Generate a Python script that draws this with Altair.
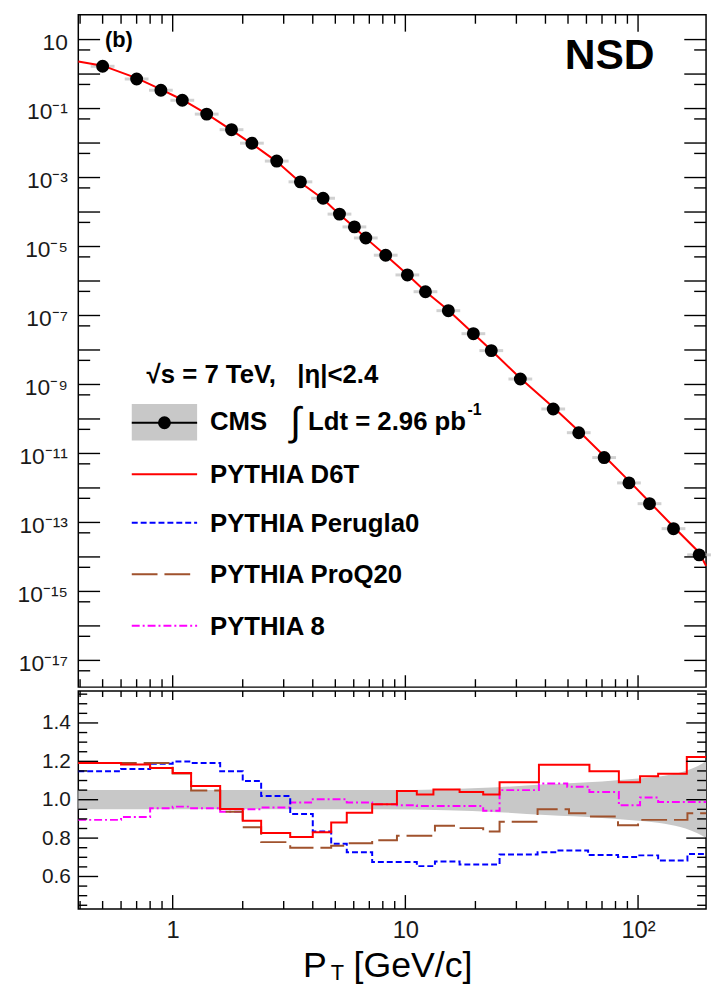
import altair as alt
import pandas as pd

# ---------------- data ----------------
cms_pt = [0.50, 0.70, 0.89, 1.10, 1.40, 1.79, 2.19, 2.80, 3.54, 4.43, 5.21, 6.04, 6.76, 8.23,
          10.2, 12.2, 15.3, 19.6, 23.4, 31.2, 43.2, 55.6, 71.5, 91.4, 112.0, 142.0, 183.0]
cms_yield = [1.68, 0.72, 0.34, 0.174, 0.069, 0.0244, 0.0099, 0.0030, 7.5e-4, 2.5e-4, 8.7e-5,
             3.7e-5, 1.77e-5, 5.6e-6, 1.5e-6, 4.9e-7, 1.38e-7, 2.97e-8, 9.6e-9, 1.44e-9,
             1.95e-10, 4.0e-11, 7.6e-12, 1.4e-12, 3.5e-13, 6.6e-14, 1.15e-14]

d6t_pt = [0.393, 0.50, 0.70, 0.89, 1.10, 1.40, 1.79, 2.19, 2.80, 3.54, 4.43, 5.21, 6.04, 6.76,
          8.23, 10.2, 12.2, 15.3, 19.6, 23.4, 31.2, 43.2, 55.6, 71.5, 91.4, 112.0, 142.0, 183.0, 196.0]
d6t_yield = [2.3, 1.75, 0.76, 0.36, 0.18, 0.070, 0.0238, 0.0095, 0.0029, 7.2e-4, 2.4e-4, 8.5e-5,
             3.6e-5, 1.75e-5, 5.6e-6, 1.55e-6, 5.0e-7, 1.42e-7, 3.0e-8, 9.8e-9, 1.52e-9, 2.2e-10,
             4.5e-11, 8.4e-12, 1.6e-12, 3.9e-13, 7.5e-14, 1.35e-14, 5.5e-15]

# ratio MC / data, step histograms (edges, values)
d6t_edges = [0.393, 0.6, 0.8, 1.0, 1.2, 1.6, 2.0, 2.4, 3.2, 4.0, 4.8, 5.6, 7.2, 9.2, 11.2, 13.2,
             17.1, 21.6, 25.4, 37.5, 61.8, 82.7, 102, 122, 162, 196]
d6t_ratio = [1.191, 1.184, 1.165, 1.139, 1.071, 0.952, 0.890, 0.826, 0.806, 0.830, 0.881, 0.932,
             0.976, 1.045, 1.027, 1.053, 1.040, 1.027, 1.091, 1.182, 1.148, 1.091, 1.122, 1.135, 1.222]

p0_edges = [0.393, 0.6, 0.8, 1.0, 1.2, 1.6, 2.0, 2.4, 3.2, 4.0, 4.8, 5.6, 7.2, 11.2, 13.4, 17.1,
            25.4, 37.0, 45.5, 61.0, 82.0, 100, 122, 163, 196]
p0_ratio = [1.148, 1.160, 1.188, 1.199, 1.191, 1.148, 1.097, 1.019, 0.925, 0.834, 0.770, 0.726,
            0.675, 0.654, 0.678, 0.663, 0.714, 0.726, 0.735, 0.712, 0.701, 0.710, 0.683, 0.717]

pq_edges = [0.393, 1.0, 1.2, 1.6, 2.0, 2.4, 3.2, 4.8, 5.6, 7.2, 9.2, 13.4, 17.1, 21.6, 25.4, 37.0,
            50.5, 61.0, 82.0, 100, 163, 196]
pq_ratio = [1.191, 1.136, 1.048, 0.937, 0.856, 0.779, 0.750, 0.760, 0.773, 0.789, 0.812, 0.864,
            0.852, 0.834, 0.885, 0.950, 0.929, 0.912, 0.867, 0.895, 0.929]

p8_edges = [0.393, 0.6, 0.8, 1.0, 1.2, 1.6, 2.0, 2.4, 3.2, 4.0, 5.6, 7.2, 9.2, 11.2, 21.6, 25.4,
            37.5, 49.6, 61.8, 82.7, 102, 122, 196]
p8_ratio = [0.895, 0.910, 0.956, 0.964, 0.955, 0.937, 0.950, 0.959, 0.985, 1.002, 0.985, 0.976,
            0.971, 0.967, 0.942, 1.050, 1.084, 1.067, 1.040, 0.971, 1.011, 0.988]

band_pt = [0.393, 8, 15, 25, 40, 70, 100, 130, 160, 180, 196]
band_hi = [1.05, 1.05, 1.055, 1.065, 1.08, 1.095, 1.11, 1.125, 1.15, 1.175, 1.20]
band_lo = [0.95, 0.95, 0.945, 0.935, 0.92, 0.905, 0.89, 0.875, 0.85, 0.825, 0.80]

# axis ticks / labels
x_major_ticks = [1, 10, 100]
x_minor_ticks = [0.4, 0.5, 0.6, 0.7, 0.8, 0.9, 2, 3, 4, 5, 6, 7, 8, 9, 20, 30, 40, 50,
                 60, 70, 80, 90]
x_labels = ["1", "10", "10²"]
y_top_major_ticks = [10, 1, 1e-1, 1e-2, 1e-3, 1e-4, 1e-5, 1e-6, 1e-7, 1e-8, 1e-9, 1e-10, 1e-11,
                     1e-12, 1e-13, 1e-14, 1e-15, 1e-16, 1e-17]
y_top_minor_ticks = [5, 0.5, 5e-2, 5e-3, 5e-4, 5e-5, 5e-6, 5e-7, 5e-8, 5e-9, 5e-10, 5e-11, 5e-12,
                     5e-13, 5e-14, 5e-15, 5e-16, 5e-17, 5e-18]
y_top_label_values = [10, 1e-1, 1e-3, 1e-5, 1e-7, 1e-9, 1e-11, 1e-13, 1e-15, 1e-17]
y_top_labels = ["10", "10⁻¹", "10⁻³", "10⁻⁵", "10⁻⁷", "10⁻⁹", "10⁻¹¹", "10⁻¹³", "10⁻¹⁵", "10⁻¹⁷"]
y_bot_major_ticks = [0.6, 0.8, 1.0, 1.2, 1.4]
y_bot_minor_ticks = [0.45, 0.5, 0.55, 0.65, 0.7, 0.75, 0.85, 0.9, 0.95, 1.05, 1.1, 1.15, 1.25,
                     1.3, 1.35, 1.45, 1.5, 1.55]

# ---------------- layout ----------------
W, H1, H2 = 634, 679, 220
FONT = "Liberation Sans"
xscale = alt.Scale(type="log", domain=[0.393, 196], nice=False)
ytop = alt.Scale(type="log", domain=[1.68e-18, 52.2], nice=False)
ybot = alt.Scale(domain=[0.431, 1.566], nice=False, zero=False)


def label_expr(values, labels):
    expr = "''"
    for v, lab in sorted(zip(values, labels)):
        expr = f"(datum.value > {v * 0.5!r} ? '{lab}' : {expr})"
    return expr


one = pd.DataFrame({"k": [0]})


def txt(text, x, y, size, weight="bold", align="left"):
    return alt.Chart(one).mark_text(text=text, align=align, baseline="alphabetic", fontSize=size,
                                    fontWeight=weight, font=FONT, color="black").encode(
        x=alt.value(x), y=alt.value(y))


def legline(color, y, dash=None):
    kw = dict(color=color, strokeWidth=2)
    if dash:
        kw["strokeDash"] = dash
    return alt.Chart(one).mark_rule(**kw).encode(x=alt.value(54), x2=alt.value(120), y=alt.value(y))


def yticks(values, scale, length, right_side=False):
    df = pd.DataFrame({"v": values})
    x0, x1 = (W - length, W) if right_side else (0, length)
    return alt.Chart(df).mark_rule(color="black", strokeWidth=1.4).encode(
        y=alt.Y("v:Q", scale=scale, axis=None), x=alt.value(x0), x2=alt.value(x1))


def xticks(values, length, height, at_top):
    df = pd.DataFrame({"v": values})
    y0, y1 = (0, length) if at_top else (height - length, height)
    return alt.Chart(df).mark_rule(color="black", strokeWidth=1.4).encode(
        x=alt.X("v:Q", scale=xscale, axis=None), y=alt.value(y0), y2=alt.value(y1))


pts = pd.DataFrame({"pt": cms_pt, "y": cms_yield})
d6t = pd.DataFrame({"pt": d6t_pt, "y": d6t_yield})

# ---------- top panel ----------
ylab_axis = alt.Axis(orient="left", values=y_top_label_values,
                     labelExpr=label_expr(y_top_label_values, y_top_labels), ticks=False, tickSize=0,
                     domain=False, grid=False, title=None, labelFontSize=23, labelFont=FONT,
                     labelColor="#1a1a1a", labelPadding=11, minExtent=65, maxExtent=65,
                     labelOverlap=False, labelOffset=3)

gray = alt.Chart(pts).mark_tick(orient="horizontal", size=24, thickness=3, color="#bdbdbd").encode(
    x=alt.X("pt:Q", scale=xscale, axis=None), y=alt.Y("y:Q", scale=ytop, axis=ylab_axis))

redline = alt.Chart(d6t).mark_line(color="#ff0000", strokeWidth=2).encode(
    x=alt.X("pt:Q", scale=xscale, axis=None), y=alt.Y("y:Q", scale=ytop, axis=None),
    order="pt:Q")

points = alt.Chart(pts).mark_circle(size=170, color="black", opacity=1).encode(
    x=alt.X("pt:Q", scale=xscale, axis=None), y=alt.Y("y:Q", scale=ytop, axis=None))

legend_box = alt.Chart(one).mark_rect(color="#c8c8c8").encode(
    x=alt.value(54), x2=alt.value(120), y=alt.value(393), y2=alt.value(430))
legend_dot = alt.Chart(one).mark_circle(size=170, color="black", opacity=1).encode(
    x=alt.value(87), y=alt.value(412))

NB = "\u00a0"
top = alt.layer(
    gray, redline, points,
    yticks(y_top_major_ticks, ytop, 22), yticks(y_top_minor_ticks, ytop, 12),
    yticks(y_top_major_ticks, ytop, 22, True), yticks(y_top_minor_ticks, ytop, 12, True),
    xticks(x_major_ticks, 17, H1, True), xticks(x_minor_ticks, 9, H1, True),
    xticks(x_major_ticks, 12, H1, False), xticks(x_minor_ticks, 8, H1, False),
    txt("(b)", 27, 33, 22),
    txt("NSD", 582, 55, 43, align="right"),
    txt(f"√s = 7 TeV,{NB}{NB}{NB}|η|<2.4", 69, 372, 26),
    legend_box, legline("black", 412), legend_dot,
    txt("CMS", 133, 419, 26),
    txt("∫", 214, 424, 40, weight="normal"),
    txt("Ldt = 2.96 pb", 232, 419, 26),
    txt("-1", 393, 404, 16),
    legline("#ff0000", 464), txt("PYTHIA D6T", 133, 473, 26),
    legline("#0000ff", 513, [6, 3]), txt("PYTHIA Perugla0", 133, 522, 26),
    legline("#a0522d", 565, [26, 7]), txt("PYTHIA ProQ20", 133, 574, 26),
    legline("#ff00ff", 617, [8, 3, 2, 3]), txt("PYTHIA 8", 133, 626, 26),
).resolve_axis(x="independent", y="independent").properties(width=W, height=H1)

# ---------- bottom panel ----------
def steps(edges, vals):
    return pd.DataFrame({"pt": edges, "r": list(vals) + [vals[-1]]})


band = pd.DataFrame({"pt": band_pt, "lo": band_lo, "hi": band_hi})

xlab_axis = alt.Axis(orient="bottom", values=x_major_ticks,
                     labelExpr=label_expr(x_major_ticks, x_labels), ticks=False, tickSize=0,
                     domain=False, grid=False, title=None, labelFontSize=24, labelFont=FONT,
                     labelColor="#1a1a1a", labelPadding=10, labelOverlap=False)
ybotlab_axis = alt.Axis(orient="left", values=y_bot_major_ticks, format=".1f", ticks=False,
                        tickSize=0, domain=False, grid=False, title=None, labelFontSize=21,
                        labelFont=FONT, labelColor="#1a1a1a", labelPadding=8, minExtent=65,
                        maxExtent=65, labelOverlap=False)

band_layer = alt.Chart(band).mark_area(color="#c8c8c8", opacity=1, interpolate="monotone").encode(
    x=alt.X("pt:Q", scale=xscale, axis=xlab_axis),
    y=alt.Y("lo:Q", scale=ybot, axis=ybotlab_axis),
    y2="hi:Q")


def step_line(edges, vals, color, dash=None):
    kw = dict(color=color, strokeWidth=2, interpolate="step-after")
    if dash:
        kw["strokeDash"] = dash
    return alt.Chart(steps(edges, vals)).mark_line(**kw).encode(
        x=alt.X("pt:Q", scale=xscale, axis=None), y=alt.Y("r:Q", scale=ybot, axis=None),
        order="pt:Q")


bottom = alt.layer(
    band_layer,
    step_line(p8_edges, p8_ratio, "#ff00ff", [8, 3, 2, 3]),
    step_line(p0_edges, p0_ratio, "#0000ff", [6, 3]),
    step_line(pq_edges, pq_ratio, "#a0522d", [26, 7]),
    step_line(d6t_edges, d6t_ratio, "#ff0000"),
    yticks(y_bot_major_ticks, ybot, 20), yticks(y_bot_minor_ticks, ybot, 9),
    yticks(y_bot_major_ticks, ybot, 20, True), yticks(y_bot_minor_ticks, ybot, 9, True),
    xticks(x_major_ticks, 9, H2, True), xticks(x_minor_ticks, 6, H2, True),
    xticks(x_major_ticks, 14, H2, False), xticks(x_minor_ticks, 8, H2, False),
    txt("P", 227, 289, 36, weight="normal"),
    txt("T", 255, 292, 22, weight="normal"),
    txt("[GeV/c]", 278, 289, 36, weight="normal"),
).resolve_axis(x="independent", y="independent").properties(width=W, height=H2)

chart = alt.vconcat(top, bottom, spacing=0).properties(
    padding={"left": 5, "top": 0, "right": 0, "bottom": 0}
).configure_view(stroke="black", strokeWidth=1.5)

chart.save("out.html", embed_options={"renderer": "svg", "actions": False})
